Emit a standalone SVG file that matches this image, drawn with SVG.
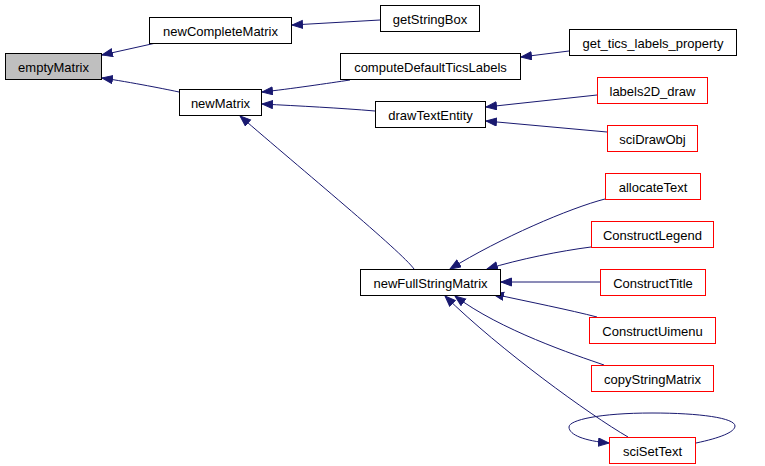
<svg xmlns="http://www.w3.org/2000/svg" width="765" height="466" viewBox="0 0 765 466">
<style>
.n rect{fill:#ffffff;stroke:#000000;stroke-width:1}
.n.r rect{stroke:#ff0000}
.n.g rect{fill:#bfbfbf}
.n text{font-family:"Liberation Sans",Arial,sans-serif;font-size:13px;fill:#000000;text-anchor:middle}
.e path{fill:none;stroke:#191970;stroke-width:1;marker-end:url(#ah)}
</style>
<defs>
<marker id="ah" markerUnits="userSpaceOnUse" markerWidth="12" markerHeight="10" refX="11" refY="4.5" orient="auto">
<path d="M0.5,0.5 L11,4.5 L0.5,8.5 z" fill="#191970" stroke="#191970" stroke-width="1"/>
</marker>
</defs>
<rect width="765" height="466" fill="#ffffff"/>
<g id="edges" class="e">
<path d="M156,43 L102,55"/>
<path d="M179,92 C170,90 130,82 102,78"/>
<path d="M380,20 L292,25"/>
<path d="M350,80 C330,83 290,89 262,92"/>
<path d="M375,111 C340,108 300,106 262,104"/>
<path d="M569,51 L521,57"/>
<path d="M597,95 L486,107"/>
<path d="M607,132 L486,121"/>
<path d="M414,269 C402,252 300,168 240,116"/>
<path d="M605,199 C570,208 500,238 450,269"/>
<path d="M591,247 C560,251 520,259 487,269"/>
<path d="M600,282 L501,282"/>
<path d="M597,317 C570,310 530,302 493,294"/>
<path d="M604,365 C575,355 500,330 455,296"/>
<path d="M628,437 C590,415 500,350 445,296"/>
<path d="M696,443 C720,438 735,432 735,426 C735,418 700,413 652,413 C600,413 569,420 569,427 C569,435 585,441 609,443"/>
</g>
<g id="emptyMatrix" class="n g"><rect x="5.5" y="53.5" width="96" height="26"/><text x="53.5" y="71.5">emptyMatrix</text></g>
<g id="newCompleteMatrix" class="n"><rect x="149.5" y="17.5" width="142" height="26"/><text x="220.5" y="35.5">newCompleteMatrix</text></g>
<g id="newMatrix" class="n"><rect x="179.5" y="89.5" width="82" height="26"/><text x="220.5" y="107.5">newMatrix</text></g>
<g id="getStringBox" class="n"><rect x="380.5" y="5.5" width="99" height="26"/><text x="430" y="23.5">getStringBox</text></g>
<g id="get_tics_labels_property" class="n"><rect x="569.5" y="29.5" width="167" height="26"/><text x="653" y="47.5">get_tics_labels_property</text></g>
<g id="computeDefaultTicsLabels" class="n"><rect x="340.5" y="53.5" width="180" height="26"/><text x="430.5" y="71.5">computeDefaultTicsLabels</text></g>
<g id="labels2D_draw" class="n r"><rect x="597.5" y="77.5" width="110" height="26"/><text x="652.5" y="95.5">labels2D_draw</text></g>
<g id="drawTextEntity" class="n"><rect x="375.5" y="101.5" width="110" height="26"/><text x="430.5" y="119.5">drawTextEntity</text></g>
<g id="sciDrawObj" class="n r"><rect x="607.5" y="125.5" width="90" height="26"/><text x="652.5" y="143.5">sciDrawObj</text></g>
<g id="allocateText" class="n r"><rect x="605.5" y="173.5" width="95" height="26"/><text x="653" y="191.5">allocateText</text></g>
<g id="ConstructLegend" class="n r"><rect x="591.5" y="221.5" width="122" height="26"/><text x="652.5" y="239.5">ConstructLegend</text></g>
<g id="ConstructTitle" class="n r"><rect x="600.5" y="269.5" width="105" height="26"/><text x="653" y="287.5">ConstructTitle</text></g>
<g id="newFullStringMatrix" class="n"><rect x="360.5" y="269.5" width="140" height="26"/><text x="430.5" y="287.5">newFullStringMatrix</text></g>
<g id="ConstructUimenu" class="n r"><rect x="589.5" y="317.5" width="126" height="26"/><text x="652.5" y="335.5">ConstructUimenu</text></g>
<g id="copyStringMatrix" class="n r"><rect x="591.5" y="365.5" width="122" height="26"/><text x="652.5" y="383.5">copyStringMatrix</text></g>
<g id="sciSetText" class="n r"><rect x="609.5" y="437.5" width="86" height="26"/><text x="652.5" y="455.5">sciSetText</text></g>
</svg>
